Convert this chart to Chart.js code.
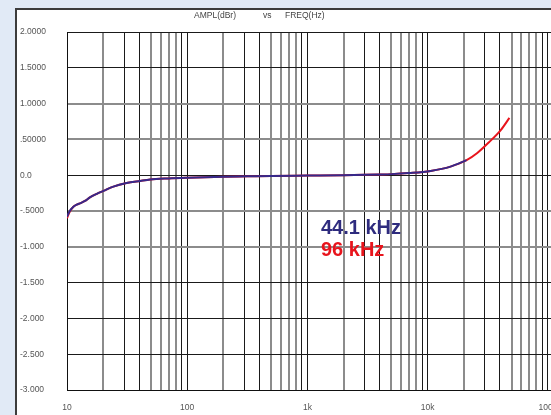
<!DOCTYPE html>
<html>
<head>
<meta charset="utf-8">
<script src="https://cdn.jsdelivr.net/npm/chart.js@4/dist/chart.umd.min.js"></script>
<style>
  html,body{margin:0;padding:0;width:551px;height:415px;overflow:hidden;background:#e1eaf6;}
  #panel{position:absolute;left:15px;top:8px;width:620px;height:420px;background:#fff;border-left:2px solid #3c3c3c;border-top:2px solid #3c3c3c;}
  #chart{position:absolute;left:0;top:0;}
  .ttl{position:absolute;top:10px;font:8.5px "Liberation Sans",Arial,sans-serif;color:#444;white-space:nowrap;}
  .leg{position:absolute;left:321px;font:bold 20px "Liberation Sans",Arial,sans-serif;line-height:20px;white-space:nowrap;}
</style>
</head>
<body>
<div id="panel"></div>
<canvas id="chart" width="584" height="415"></canvas>
<div class="ttl" style="left:194px">AMPL(dBr)</div>
<div class="ttl" style="left:263px">vs</div>
<div class="ttl" style="left:285px">FREQ(Hz)</div>
<div class="leg" style="top:217px;color:#2e2b7e">44.1 kHz</div>
<div class="leg" style="top:239px;color:#e8141c">96 kHz</div>
<script>
// values
const freq44 = [10, 10.45, 11.3, 12.05, 13.0, 14.1, 15.5, 17.7, 20.1, 24.3, 31.3, 40.6, 49.2, 70, 100, 200, 316, 500, 1000, 2000, 3000, 4000, 5000, 7000, 10600, 15500, 21100];
const amp44  = [-0.58, -0.51, -0.44, -0.41, -0.39, -0.36, -0.31, -0.26, -0.22, -0.16, -0.11, -0.08, -0.06, -0.045, -0.035, -0.02, -0.015, -0.01, -0.005, 0.0, 0.005, 0.01, 0.015, 0.03, 0.06, 0.12, 0.21];
const freq96 = [10, 10.45, 11.3, 12.05, 13.0, 14.1, 15.5, 17.7, 20.1, 24.3, 31.3, 40.6, 49.2, 70, 100, 200, 316, 500, 1000, 2000, 3000, 4000, 5000, 7000, 10600, 15500, 21100, 25900, 32400, 40600, 47900];
const amp96  = [-0.60, -0.52, -0.44, -0.41, -0.39, -0.36, -0.31, -0.26, -0.22, -0.16, -0.11, -0.08, -0.06, -0.045, -0.035, -0.02, -0.015, -0.01, -0.005, 0.0, 0.005, 0.01, 0.015, 0.03, 0.06, 0.12, 0.21, 0.31, 0.46, 0.63, 0.80];

const xGrid = [];
[10, 100, 1000, 10000].forEach(d => { for (let m = 1; m < 10; m++) xGrid.push(d * m); });
xGrid.push(100000);
const xLabels = {10: '10', 100: '100', 1000: '1k', 10000: '10k', 100000: '100k'};
const yLabels = ['-3.000', '-2.500', '-2.000', '-1.500', '-1.000', '-.5000', '0.0', '.50000', '1.0000', '1.5000', '2.0000'];

const grayX = [2, 5, 6, 7, 8];
const grayY = [1, 0.5, -0.5, -1];

function mant(v){ const p = Math.pow(10, Math.floor(Math.log10(v) + 1e-9)); return Math.round(v / p); }

new Chart(document.getElementById('chart'), {
  type: 'line',
  data: {
    datasets: [
      {label: '44.1 kHz', data: freq44.map((f, i) => ({x: f, y: amp44[i]})), borderColor: '#36298a', borderWidth: 2, pointRadius: 0, cubicInterpolationMode: 'monotone'},
      {label: '96 kHz', data: freq96.map((f, i) => ({x: f, y: amp96[i]})), borderColor: '#e8141c', borderWidth: 2, pointRadius: 0, cubicInterpolationMode: 'monotone'}
    ]
  },
  options: {
    responsive: false,
    animation: false,
    devicePixelRatio: 1,
    layout: {padding: {left: 20, top: 32, right: 0, bottom: 0}},
    plugins: {legend: {display: false}, title: {display: false}, tooltip: {enabled: false}},
    scales: {
      x: {
        type: 'logarithmic', min: 10, max: 200000,
        afterBuildTicks: s => { s.ticks = xGrid.map(v => ({value: v})); },
        afterFit: s => { s.height = 25; },
        border: {display: true, color: '#111', width: 1},
        grid: {
          drawTicks: false,
          color: c => grayX.includes(mant(c.tick.value)) ? '#8c8c8c' : '#1a1a1a',
          lineWidth: c => grayX.includes(mant(c.tick.value)) ? 2 : 1
        },
        ticks: {
          autoSkip: false, maxRotation: 0, padding: 13,
          color: '#555', font: {family: 'Liberation Sans', size: 8.5},
          callback: v => xLabels[v] || ''
        }
      },
      y: {
        min: -3, max: 2,
        afterFit: s => { s.width = 47; },
        border: {display: true, color: '#111', width: 1},
        grid: {
          drawTicks: false,
          color: c => grayY.includes(c.tick.value) ? '#8c8c8c' : '#1a1a1a',
          lineWidth: c => grayY.includes(c.tick.value) ? 2 : 1
        },
        ticks: {
          stepSize: 0.5, crossAlign: 'far',
          color: '#555', font: {family: 'Liberation Sans', size: 8.5},
          callback: (v, i) => yLabels[i]
        }
      }
    }
  }
});
</script>
</body>
</html>
